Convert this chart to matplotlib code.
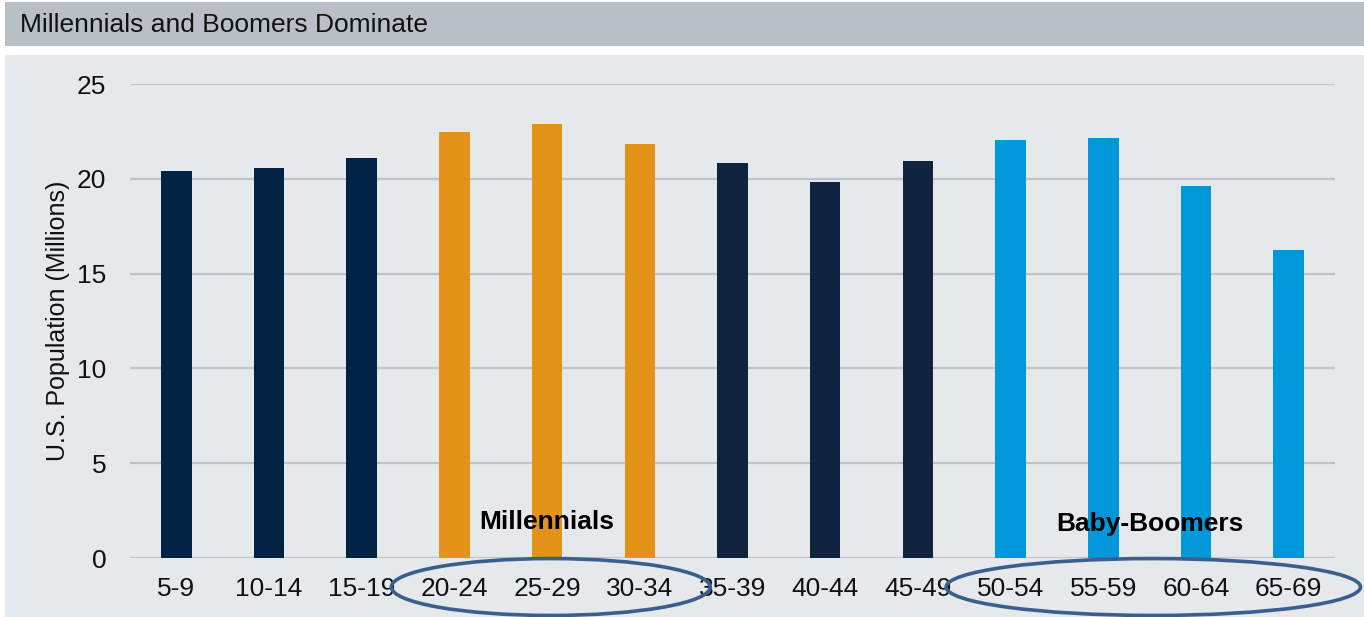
import matplotlib
matplotlib.use("Agg")
import matplotlib.pyplot as plt
from matplotlib.patches import Rectangle, Ellipse

plt.rcParams['font.family'] = ['Liberation Sans', 'DejaVu Sans']

# dados
faixas = ['5-9', '10-14', '15-19', '20-24', '25-29', '30-34', '35-39',
          '40-44', '45-49', '50-54', '55-59', '60-64', '65-69']
populacao = [20.39, 20.55, 21.08, 22.45, 22.87, 21.82, 20.81,
             19.81, 20.92, 22.03, 22.13, 19.60, 16.27]
cores = ['#002244'] * 3 + ['#e29318'] * 3 + ['#10243f'] * 3 + ['#0098da'] * 4

W, H = 1364, 617
fig = plt.figure(figsize=(W / 100, H / 100), dpi=100)
fig.patch.set_facecolor('white')

# faixa do titulo e painel de fundo (atras dos eixos)
fig.patches.append(Rectangle((5 / W, 1 - 46 / H), 1, 44 / H, transform=fig.transFigure,
                             facecolor='#b9bfc6', edgecolor='none', zorder=-10))
fig.patches.append(Rectangle((5 / W, 0), 1, 1 - 55 / H, transform=fig.transFigure,
                             facecolor='#e6e9ec', edgecolor='none', zorder=-10))
fig.text(20 / W, 1 - 25 / H, 'Millennials and Boomers Dominate', fontsize=19,
         ha='left', va='center', color='#111111')

ax = fig.add_axes([130 / W, 1 - 558 / H, (1335 - 130) / W, (558 - 84) / H])
ax.set_facecolor('none')

x = range(len(faixas))
ax.bar(x, populacao, width=0.33, color=cores, zorder=3)

ax.set_xlim(-0.5, len(faixas) - 0.5)
ax.set_ylim(0, 25)
ax.set_yticks([0, 5, 10, 15, 20, 25])
ax.set_xticks(list(x))
ax.set_xticklabels(faixas)
ax.tick_params(axis='both', length=0, labelsize=19, colors='#111111')
ax.tick_params(axis='y', pad=17)
ax.tick_params(axis='x', pad=14)
ax.yaxis.grid(True, color='#c0c4c9', linewidth=1.6, zorder=0)
ax.set_axisbelow(True)
for s in ax.spines.values():
    s.set_visible(False)
ax.set_ylabel('U.S. Population (Millions)', fontsize=18, color='#111111', labelpad=5)

# destaques das geracoes
ax.text(4, 1.9, 'Millennials', fontsize=19, fontweight='bold', ha='center', va='center', zorder=4)
ax.text(10.5, 1.8, 'Baby-Boomers', fontsize=19, fontweight='bold', ha='center', va='center', zorder=4)
ax.add_patch(Ellipse((4.04, -1.53), 3.44, 3.0, fill=False, edgecolor='#3a5f8f',
                     linewidth=2.6, clip_on=False, zorder=5))
ax.add_patch(Ellipse((10.54, -1.53), 4.47, 3.0, fill=False, edgecolor='#3a5f8f',
                     linewidth=2.6, clip_on=False, zorder=5))

fig.savefig('out.png', dpi=100)
